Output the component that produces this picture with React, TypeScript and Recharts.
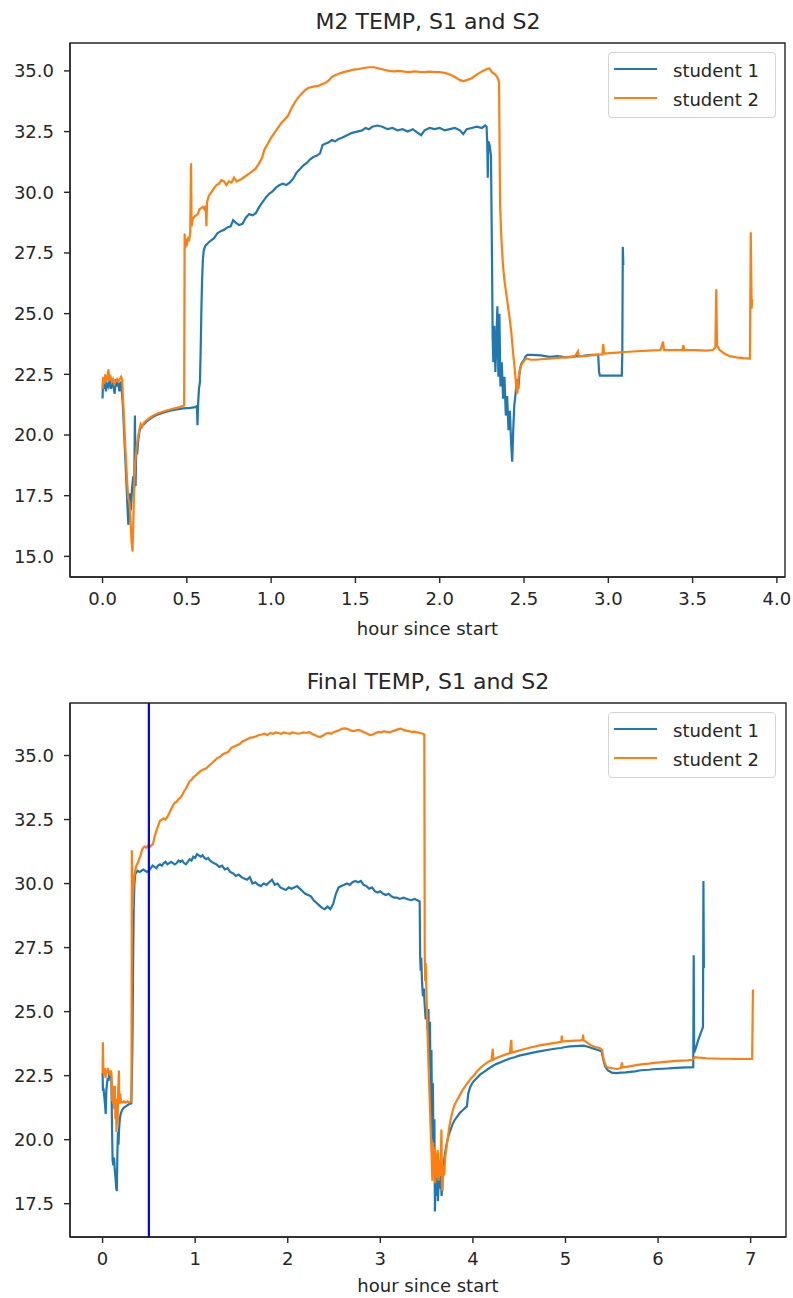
import React from "react";
import { Legend, Line, LineChart, ReferenceArea, ReferenceLine, XAxis, YAxis } from "recharts";

// [hour since start, temperature]
const m2Student1: [number, number][] = [
  [0.0, 21.5], [0.003, 22.3], [0.008, 21.9], [0.015, 22.2], [0.02, 21.8], [0.028, 22.1], [0.035, 22.0],
  [0.042, 22.3], [0.05, 21.9], [0.058, 22.2], [0.065, 22.0], [0.072, 21.7], [0.078, 22.3], [0.085, 22.0],
  [0.092, 22.2], [0.1, 21.8], [0.105, 22.1], [0.11, 22.2], [0.12, 21.3], [0.13, 19.8], [0.14, 18.3],
  [0.148, 17.0], [0.153, 16.3], [0.158, 16.8], [0.163, 17.6], [0.168, 16.9], [0.175, 17.8], [0.182, 18.3],
  [0.188, 17.8], [0.192, 20.8], [0.196, 17.9], [0.2, 19.5], [0.205, 19.2], [0.212, 19.8], [0.22, 20.2],
  [0.23, 20.35], [0.24, 20.4], [0.26, 20.55], [0.28, 20.65], [0.3, 20.75], [0.33, 20.85], [0.36, 20.92],
  [0.4, 21.0], [0.44, 21.05], [0.48, 21.1], [0.52, 21.12], [0.55, 21.15], [0.56, 21.2], [0.563, 20.4],
  [0.567, 21.3], [0.572, 21.9], [0.578, 22.2], [0.582, 23.5], [0.586, 25.0], [0.59, 26.3], [0.595, 27.2],
  [0.6, 27.6], [0.61, 27.8], [0.625, 27.9], [0.64, 28.0], [0.66, 28.1], [0.68, 28.3], [0.7, 28.4],
  [0.72, 28.45], [0.74, 28.55], [0.76, 28.6], [0.775, 28.85], [0.79, 28.75], [0.81, 28.65], [0.83, 28.7],
  [0.85, 28.95], [0.87, 29.1], [0.89, 29.05], [0.91, 29.15], [0.93, 29.4], [0.95, 29.6], [0.97, 29.8],
  [0.99, 29.95], [1.01, 30.05], [1.03, 30.2], [1.05, 30.3], [1.07, 30.35], [1.09, 30.3], [1.11, 30.4],
  [1.13, 30.55], [1.15, 30.8], [1.17, 30.95], [1.19, 31.1], [1.21, 31.2], [1.23, 31.35], [1.25, 31.45],
  [1.27, 31.5], [1.29, 31.6], [1.305, 31.95], [1.32, 32.0], [1.34, 32.05], [1.36, 32.15], [1.38, 32.1],
  [1.4, 32.2], [1.42, 32.25], [1.45, 32.35], [1.48, 32.45], [1.51, 32.5], [1.54, 32.55], [1.56, 32.65],
  [1.58, 32.6], [1.6, 32.7], [1.63, 32.75], [1.66, 32.7], [1.69, 32.6], [1.72, 32.65], [1.75, 32.55],
  [1.78, 32.6], [1.81, 32.5], [1.84, 32.6], [1.87, 32.45], [1.89, 32.35], [1.91, 32.55], [1.94, 32.65],
  [1.97, 32.6], [2.0, 32.65], [2.03, 32.55], [2.06, 32.6], [2.09, 32.65], [2.12, 32.55], [2.14, 32.4],
  [2.16, 32.6], [2.19, 32.65], [2.22, 32.7], [2.25, 32.65], [2.27, 32.75], [2.278, 32.7], [2.282, 32.0],
  [2.285, 30.6], [2.288, 32.1], [2.296, 31.95], [2.304, 31.5], [2.31, 27.3], [2.314, 24.0], [2.318, 23.0],
  [2.324, 24.5], [2.33, 22.6], [2.336, 23.8], [2.342, 25.3], [2.348, 22.4], [2.354, 25.0], [2.36, 22.0],
  [2.368, 23.0], [2.376, 21.5], [2.384, 22.4], [2.392, 20.8], [2.4, 21.6], [2.408, 20.2], [2.416, 21.0],
  [2.424, 19.6], [2.43, 18.9], [2.436, 20.2], [2.442, 21.2], [2.45, 21.7], [2.458, 22.3], [2.466, 21.9],
  [2.474, 22.6], [2.482, 22.9], [2.49, 23.0], [2.5, 23.1], [2.51, 23.25], [2.52, 23.3], [2.55, 23.3],
  [2.6, 23.28], [2.65, 23.22], [2.7, 23.25], [2.75, 23.2], [2.8, 23.24], [2.85, 23.26], [2.9, 23.3],
  [2.94, 23.3], [2.945, 22.6], [2.95, 22.45], [3.0, 22.45], [3.05, 22.45], [3.08, 22.45], [3.083, 23.4],
  [3.086, 27.75], [3.089, 27.0],
];

const m2Student2: [number, number][] = [
  [0.0, 21.9], [0.004, 22.4], [0.01, 22.1], [0.016, 22.5], [0.022, 22.2], [0.03, 22.4], [0.035, 22.7],
  [0.04, 22.3], [0.048, 22.4], [0.055, 22.2], [0.062, 22.3], [0.07, 22.1], [0.078, 22.2], [0.086, 22.3],
  [0.094, 22.2], [0.102, 22.3], [0.11, 22.4], [0.116, 22.3], [0.125, 21.0], [0.135, 19.5], [0.145, 18.2],
  [0.152, 17.4], [0.16, 17.2], [0.166, 16.5], [0.172, 15.6], [0.178, 15.2], [0.183, 16.5], [0.188, 18.0],
  [0.195, 19.0], [0.202, 19.5], [0.21, 19.9], [0.218, 20.2], [0.226, 20.45], [0.235, 20.35], [0.245, 20.5],
  [0.26, 20.6], [0.28, 20.7], [0.3, 20.8], [0.33, 20.9], [0.36, 20.97], [0.4, 21.05], [0.44, 21.12],
  [0.47, 21.18], [0.484, 21.22], [0.487, 28.3], [0.491, 27.7], [0.496, 28.0], [0.502, 27.9], [0.508, 28.1],
  [0.514, 28.05], [0.52, 28.3], [0.525, 31.2], [0.528, 28.6], [0.535, 28.9], [0.545, 29.0], [0.555, 29.05],
  [0.565, 29.1], [0.575, 29.3], [0.585, 29.35], [0.595, 29.4], [0.605, 29.3], [0.612, 29.45], [0.616, 28.6],
  [0.62, 29.6], [0.63, 29.85], [0.645, 30.0], [0.66, 30.15], [0.675, 30.3], [0.69, 30.35], [0.705, 30.5],
  [0.72, 30.45], [0.735, 30.3], [0.75, 30.45], [0.765, 30.4], [0.78, 30.6], [0.795, 30.45], [0.81, 30.5],
  [0.825, 30.55], [0.845, 30.65], [0.865, 30.75], [0.885, 30.85], [0.905, 30.95], [0.925, 31.15], [0.945, 31.4],
  [0.96, 31.75], [0.98, 32.0], [1.0, 32.25], [1.02, 32.45], [1.04, 32.65], [1.06, 32.85], [1.08, 33.0],
  [1.1, 33.15], [1.12, 33.45], [1.14, 33.7], [1.16, 33.9], [1.18, 34.05], [1.2, 34.2], [1.22, 34.3],
  [1.25, 34.35], [1.28, 34.38], [1.3, 34.45], [1.32, 34.5], [1.34, 34.6], [1.36, 34.75], [1.38, 34.82],
  [1.4, 34.88], [1.43, 34.95], [1.46, 35.0], [1.49, 35.05], [1.52, 35.08], [1.55, 35.12], [1.58, 35.15],
  [1.61, 35.15], [1.64, 35.1], [1.67, 35.05], [1.7, 35.0], [1.73, 34.98], [1.76, 35.0], [1.79, 34.97],
  [1.82, 34.95], [1.85, 34.98], [1.88, 34.96], [1.91, 34.95], [1.94, 34.97], [1.97, 34.95], [2.0, 34.95],
  [2.03, 34.92], [2.06, 34.85], [2.09, 34.75], [2.12, 34.62], [2.14, 34.58], [2.16, 34.62], [2.19, 34.7],
  [2.22, 34.85], [2.25, 34.98], [2.28, 35.08], [2.295, 35.1], [2.31, 34.95], [2.33, 34.85], [2.345, 34.7],
  [2.352, 34.5], [2.356, 31.0], [2.358, 29.5], [2.365, 28.2], [2.375, 27.0], [2.385, 26.3], [2.395, 25.8],
  [2.405, 25.3], [2.415, 24.8], [2.425, 24.2], [2.435, 23.4], [2.445, 22.7], [2.455, 21.9], [2.46, 21.7],
  [2.468, 22.4], [2.476, 22.7], [2.485, 22.9], [2.495, 23.0], [2.505, 23.1], [2.515, 23.15], [2.54, 23.1],
  [2.57, 23.1], [2.6, 23.12], [2.65, 23.15], [2.7, 23.18], [2.75, 23.2], [2.8, 23.22], [2.82, 23.45],
  [2.825, 23.24], [2.87, 23.26], [2.92, 23.3], [2.965, 23.32], [2.97, 23.75], [2.975, 23.35], [3.03, 23.38],
  [3.1, 23.42], [3.17, 23.45], [3.24, 23.48], [3.31, 23.5], [3.325, 23.85], [3.33, 23.5], [3.4, 23.5],
  [3.44, 23.5], [3.445, 23.7], [3.45, 23.5], [3.52, 23.5], [3.58, 23.48], [3.62, 23.5], [3.635, 23.6],
  [3.64, 26.0], [3.645, 23.7], [3.66, 23.5], [3.69, 23.35], [3.72, 23.25], [3.76, 23.2], [3.8, 23.17],
  [3.84, 23.15], [3.845, 28.35], [3.85, 25.2], [3.853, 25.6],
];

const finalStudent1: [number, number][] = [
  [0.0, 22.6], [0.004, 21.9], [0.01, 22.0], [0.018, 21.7], [0.026, 21.4], [0.034, 21.0], [0.04, 21.9],
  [0.048, 22.2], [0.056, 22.4], [0.064, 22.3], [0.072, 22.6], [0.08, 22.5], [0.088, 22.6], [0.095, 22.3],
  [0.102, 20.5], [0.108, 19.2], [0.116, 19.0], [0.124, 19.3], [0.132, 18.8], [0.14, 18.5], [0.148, 18.1],
  [0.154, 18.0], [0.16, 19.5], [0.166, 20.3], [0.172, 19.8], [0.178, 20.4], [0.186, 20.8], [0.195, 21.0],
  [0.21, 21.15], [0.23, 21.25], [0.25, 21.3], [0.27, 21.35], [0.29, 21.4], [0.31, 21.42], [0.318, 22.6],
  [0.324, 24.3], [0.33, 27.0], [0.336, 29.0], [0.344, 30.0], [0.352, 30.35], [0.365, 30.45], [0.38, 30.5],
  [0.4, 30.45], [0.42, 30.5], [0.44, 30.55], [0.46, 30.5], [0.48, 30.45], [0.5, 30.5], [0.52, 30.6],
  [0.54, 30.7], [0.56, 30.65], [0.58, 30.6], [0.6, 30.7], [0.62, 30.75], [0.64, 30.7], [0.66, 30.8],
  [0.68, 30.85], [0.7, 30.75], [0.72, 30.8], [0.74, 30.85], [0.76, 30.8], [0.78, 30.75], [0.8, 30.8],
  [0.82, 30.9], [0.84, 30.85], [0.86, 30.9], [0.88, 30.8], [0.9, 30.75], [0.92, 30.85], [0.94, 30.95],
  [0.96, 30.9], [0.98, 31.05], [1.0, 31.0], [1.02, 31.15], [1.04, 31.1], [1.06, 31.05], [1.08, 31.1],
  [1.1, 31.0], [1.12, 30.95], [1.14, 31.0], [1.16, 30.9], [1.18, 30.85], [1.2, 30.8], [1.23, 30.75],
  [1.26, 30.65], [1.29, 30.7], [1.32, 30.55], [1.35, 30.6], [1.38, 30.45], [1.41, 30.4], [1.44, 30.3],
  [1.47, 30.35], [1.5, 30.25], [1.53, 30.2], [1.56, 30.15], [1.59, 30.25], [1.62, 30.0], [1.65, 30.05],
  [1.68, 29.95], [1.71, 29.9], [1.74, 30.0], [1.77, 29.95], [1.8, 30.05], [1.83, 30.15], [1.86, 29.95],
  [1.89, 30.0], [1.92, 29.85], [1.95, 29.8], [1.98, 29.75], [2.01, 29.85], [2.04, 29.8], [2.07, 29.85],
  [2.1, 29.9], [2.13, 29.8], [2.16, 29.7], [2.19, 29.6], [2.22, 29.55], [2.25, 29.5], [2.28, 29.35],
  [2.31, 29.25], [2.34, 29.15], [2.37, 29.05], [2.4, 29.0], [2.43, 29.1], [2.46, 29.0], [2.49, 29.2],
  [2.52, 29.6], [2.55, 29.85], [2.58, 29.9], [2.61, 29.95], [2.64, 30.0], [2.67, 29.95], [2.7, 30.05],
  [2.73, 30.1], [2.76, 30.05], [2.79, 30.1], [2.82, 29.95], [2.85, 29.9], [2.88, 29.8], [2.91, 29.85],
  [2.94, 29.7], [2.97, 29.65], [3.0, 29.7], [3.03, 29.6], [3.06, 29.55], [3.09, 29.6], [3.12, 29.5],
  [3.15, 29.45], [3.18, 29.45], [3.21, 29.4], [3.25, 29.45], [3.29, 29.4], [3.33, 29.35], [3.37, 29.4],
  [3.4, 29.35], [3.425, 29.3], [3.43, 27.2], [3.436, 26.6], [3.442, 27.1], [3.45, 26.2], [3.46, 25.6],
  [3.47, 25.9], [3.48, 25.2], [3.49, 24.7], [3.5, 25.0], [3.51, 24.3], [3.52, 25.1], [3.528, 22.8],
  [3.536, 24.6], [3.544, 21.3], [3.552, 23.5], [3.56, 20.0], [3.568, 22.2], [3.576, 18.6], [3.584, 20.8],
  [3.59, 17.2], [3.598, 19.4], [3.606, 17.8], [3.614, 18.9], [3.622, 17.6], [3.632, 18.5], [3.642, 18.1],
  [3.652, 18.6], [3.662, 17.8], [3.672, 18.4], [3.682, 18.8], [3.692, 19.3], [3.705, 19.6], [3.72, 19.9],
  [3.74, 20.2], [3.76, 20.4], [3.78, 20.6], [3.8, 20.75], [3.83, 20.9], [3.86, 21.05], [3.89, 21.15],
  [3.92, 21.25], [3.935, 21.3], [3.95, 21.8], [3.97, 22.05], [4.0, 22.25], [4.04, 22.4], [4.08, 22.55],
  [4.12, 22.65], [4.16, 22.75], [4.2, 22.85], [4.25, 22.95], [4.3, 23.02], [4.35, 23.1], [4.4, 23.17],
  [4.45, 23.22], [4.5, 23.28], [4.55, 23.32], [4.6, 23.36], [4.65, 23.4], [4.7, 23.44], [4.75, 23.47],
  [4.8, 23.5], [4.85, 23.53], [4.9, 23.56], [4.95, 23.58], [5.0, 23.62], [5.05, 23.64], [5.1, 23.65],
  [5.15, 23.66], [5.2, 23.67], [5.25, 23.62], [5.3, 23.56], [5.35, 23.5], [5.39, 23.45], [5.41, 23.1],
  [5.43, 22.85], [5.46, 22.7], [5.5, 22.62], [5.55, 22.6], [5.6, 22.62], [5.65, 22.63], [5.7, 22.65],
  [5.75, 22.67], [5.8, 22.7], [5.85, 22.72], [5.9, 22.73], [5.95, 22.75], [6.0, 22.76], [6.05, 22.77],
  [6.1, 22.78], [6.15, 22.79], [6.2, 22.8], [6.25, 22.81], [6.3, 22.82], [6.35, 22.82], [6.38, 22.83],
  [6.385, 27.2], [6.39, 23.4], [6.41, 23.6], [6.43, 23.85], [6.45, 24.05], [6.47, 24.25], [6.485, 24.4],
  [6.49, 30.1], [6.495, 26.7],
];

const finalStudent2: [number, number][] = [
  [0.0, 22.6], [0.003, 23.8], [0.008, 22.7], [0.016, 22.5], [0.024, 22.8], [0.032, 22.4], [0.04, 22.7],
  [0.048, 22.6], [0.056, 22.8], [0.064, 22.6], [0.072, 22.7], [0.08, 22.5], [0.088, 22.7], [0.096, 22.6],
  [0.102, 21.5], [0.108, 22.1], [0.114, 21.4], [0.12, 21.9], [0.126, 21.2], [0.132, 22.1], [0.138, 20.8],
  [0.145, 21.6], [0.15, 20.3], [0.156, 21.3], [0.162, 20.6], [0.168, 21.8], [0.176, 22.7], [0.182, 21.4],
  [0.19, 21.8], [0.198, 21.5], [0.21, 21.45], [0.23, 21.5], [0.25, 21.45], [0.27, 21.5], [0.29, 21.45],
  [0.312, 21.5], [0.316, 31.3], [0.322, 29.0], [0.328, 29.6], [0.334, 30.0], [0.342, 30.3], [0.352, 30.5],
  [0.365, 30.7], [0.38, 30.8], [0.395, 30.95], [0.41, 31.1], [0.425, 31.3], [0.44, 31.4], [0.455, 31.45],
  [0.47, 31.4], [0.485, 31.45], [0.5, 31.5], [0.515, 31.45], [0.53, 31.5], [0.545, 31.55], [0.56, 31.8],
  [0.575, 32.0], [0.59, 32.15], [0.605, 32.3], [0.62, 32.45], [0.64, 32.5], [0.66, 32.55], [0.68, 32.5],
  [0.7, 32.6], [0.72, 32.75], [0.74, 32.9], [0.76, 33.05], [0.78, 33.15], [0.8, 33.2], [0.82, 33.3],
  [0.84, 33.35], [0.86, 33.45], [0.88, 33.6], [0.9, 33.7], [0.92, 33.85], [0.94, 34.0], [0.96, 34.05],
  [0.98, 34.15], [1.0, 34.2], [1.03, 34.3], [1.06, 34.4], [1.09, 34.45], [1.12, 34.5], [1.15, 34.6],
  [1.18, 34.7], [1.21, 34.8], [1.24, 34.9], [1.27, 34.95], [1.3, 35.05], [1.33, 35.1], [1.36, 35.15],
  [1.39, 35.3], [1.42, 35.35], [1.45, 35.4], [1.48, 35.45], [1.51, 35.55], [1.54, 35.6], [1.57, 35.65],
  [1.6, 35.7], [1.63, 35.72], [1.66, 35.75], [1.69, 35.8], [1.72, 35.82], [1.75, 35.85], [1.78, 35.8],
  [1.81, 35.88], [1.84, 35.85], [1.87, 35.9], [1.9, 35.88], [1.93, 35.85], [1.96, 35.9], [1.99, 35.87],
  [2.02, 35.85], [2.05, 35.9], [2.08, 35.88], [2.11, 35.85], [2.14, 35.87], [2.17, 35.9], [2.2, 35.88],
  [2.23, 35.92], [2.26, 35.85], [2.29, 35.8], [2.32, 35.75], [2.35, 35.72], [2.38, 35.78], [2.41, 35.85],
  [2.44, 35.88], [2.47, 35.85], [2.5, 35.92], [2.53, 35.95], [2.56, 36.0], [2.59, 36.05], [2.62, 36.06],
  [2.65, 36.03], [2.68, 35.98], [2.71, 35.95], [2.74, 35.98], [2.77, 36.0], [2.8, 35.95], [2.83, 35.9],
  [2.86, 35.85], [2.89, 35.8], [2.92, 35.82], [2.95, 35.88], [2.98, 35.92], [3.01, 35.9], [3.04, 35.95],
  [3.07, 35.92], [3.1, 35.9], [3.13, 35.95], [3.16, 35.98], [3.19, 36.02], [3.22, 36.05], [3.25, 36.0],
  [3.28, 35.97], [3.31, 35.95], [3.34, 35.92], [3.37, 35.93], [3.4, 35.9], [3.43, 35.88], [3.46, 35.85],
  [3.475, 35.82], [3.48, 27.3], [3.484, 26.2], [3.49, 26.9], [3.5, 25.5], [3.51, 24.2], [3.52, 23.0],
  [3.53, 21.9], [3.54, 20.8], [3.55, 19.8], [3.556, 19.2], [3.562, 18.4], [3.57, 19.9], [3.578, 18.6],
  [3.586, 19.7], [3.594, 18.3], [3.602, 19.5], [3.61, 18.5], [3.62, 19.6], [3.63, 18.4], [3.64, 19.2],
  [3.65, 18.6], [3.66, 20.4], [3.666, 18.2], [3.672, 18.0], [3.68, 19.0], [3.69, 18.6], [3.7, 19.3],
  [3.715, 19.7], [3.73, 20.1], [3.745, 20.5], [3.76, 20.8], [3.78, 21.1], [3.8, 21.35], [3.83, 21.55],
  [3.86, 21.75], [3.89, 21.95], [3.92, 22.1], [3.95, 22.25], [3.98, 22.4], [4.01, 22.5], [4.04, 22.65],
  [4.08, 22.8], [4.12, 22.92], [4.16, 23.03], [4.2, 23.1], [4.215, 23.55], [4.22, 23.12], [4.26, 23.2],
  [4.3, 23.26], [4.35, 23.32], [4.4, 23.38], [4.415, 23.9], [4.42, 23.4], [4.47, 23.45], [4.52, 23.5],
  [4.57, 23.55], [4.62, 23.6], [4.67, 23.64], [4.72, 23.68], [4.77, 23.71], [4.82, 23.74], [4.87, 23.77],
  [4.92, 23.8], [4.955, 23.82], [4.96, 24.06], [4.965, 23.83], [5.01, 23.85], [5.06, 23.86], [5.11, 23.87],
  [5.16, 23.88], [5.185, 23.9], [5.19, 24.1], [5.195, 23.88], [5.23, 23.8], [5.27, 23.7], [5.32, 23.62],
  [5.37, 23.58], [5.395, 23.5], [5.415, 23.1], [5.44, 22.85], [5.48, 22.8], [5.52, 22.78], [5.56, 22.76],
  [5.6, 22.8], [5.61, 23.02], [5.615, 22.82], [5.66, 22.84], [5.72, 22.88], [5.78, 22.92], [5.84, 22.95],
  [5.9, 22.97], [5.96, 23.0], [6.02, 23.02], [6.08, 23.04], [6.14, 23.06], [6.2, 23.08], [6.26, 23.09],
  [6.32, 23.1], [6.37, 23.12], [6.4, 23.22], [6.45, 23.2], [6.52, 23.18], [6.6, 23.17], [6.68, 23.16],
  [6.76, 23.16], [6.84, 23.15], [6.92, 23.15], [6.98, 23.15], [7.016, 23.15], [7.025, 25.85], [7.03, 25.8],
];

const m2HourTicks = [0, 0.5, 1, 1.5, 2, 2.5, 3, 3.5, 4];
const m2TempTicks = [15, 17.5, 20, 22.5, 25, 27.5, 30, 32.5, 35];
const finalHourTicks = [0, 1, 2, 3, 4, 5, 6, 7];
const finalTempTicks = [17.5, 20, 22.5, 25, 27.5, 30, 32.5, 35];
const markerHour = 0.5;

const BLUE = "#1f77b4";
const ORANGE = "#ff7f0e";
const INK = "#262626";
const FONT = "DejaVu Sans, sans-serif";

const toPoints = (rows: [number, number][]) => rows.map(([t, v]) => ({ t, v }));

function LegendBox(props: any) {
  const items = props.payload || [];
  return (
    <div
      style={{
        width: 168,
        height: 66,
        boxSizing: "border-box",
        border: "1px solid #d3d3d3",
        borderRadius: 4,
        background: "rgba(255,255,255,0.85)",
        position: "relative",
        fontFamily: FONT,
      }}
    >
      {items.map((item: any, i: number) => (
        <React.Fragment key={item.value}>
          <div
            style={{
              position: "absolute",
              left: 5,
              top: 15 + i * 29,
              width: 43,
              height: 2.3,
              background: item.color,
            }}
          />
          <div
            style={{
              position: "absolute",
              left: 64,
              top: 9 + i * 29,
              fontSize: 18,
              lineHeight: "18px",
              color: INK,
              whiteSpace: "nowrap",
            }}
          >
            {item.value}
          </div>
        </React.Fragment>
      ))}
    </div>
  );
}

type PanelProps = {
  top: number;
  height: number;
  title: string;
  s1: [number, number][];
  s2: [number, number][];
  xDomain: [number, number];
  yDomain: [number, number];
  xTicks: number[];
  yTicks: number[];
  xFmt: (v: number) => string;
  axisHeight: number;
  labelOffset: number;
  rightMargin: number;
  vline?: number;
};

function Panel(p: PanelProps) {
  const tickStyle = { fontSize: 18, fill: INK, fontFamily: FONT };
  return (
    <div style={{ position: "absolute", left: 0, top: p.top, width: 793, height: p.height }}>
      <div
        style={{
          position: "absolute",
          left: 70,
          width: 786 - 70,
          top: 11,
          textAlign: "center",
          fontSize: 22,
          lineHeight: "22px",
          color: INK,
          fontFamily: FONT,
        }}
      >
        {p.title}
      </div>
      <LineChart
        width={793}
        height={p.height}
        margin={{ top: 43, right: p.rightMargin, left: 0, bottom: 0 }}
        style={{ fontFamily: FONT }}
      >
        <XAxis
          dataKey="t"
          type="number"
          domain={p.xDomain}
          allowDataOverflow
          ticks={p.xTicks}
          tickFormatter={p.xFmt}
          height={p.axisHeight}
          tickSize={6}
          tickMargin={9}
          stroke={INK}
          strokeWidth={1.4}
          tick={tickStyle}
          label={{ value: "hour since start", position: "insideBottom", offset: p.labelOffset, fontSize: 18, fill: INK }}
        />
        <YAxis
          type="number"
          domain={p.yDomain}
          allowDataOverflow
          ticks={p.yTicks}
          tickFormatter={(v: number) => v.toFixed(1)}
          width={70}
          tickSize={6}
          tickMargin={10}
          stroke={INK}
          strokeWidth={1.4}
          tick={tickStyle}
        />
        {/* axes frame (matplotlib draws all four spines) */}
        <ReferenceArea
          x1={p.xDomain[0]}
          x2={p.xDomain[1]}
          y1={p.yDomain[0]}
          y2={p.yDomain[1]}
          fill="none"
          fillOpacity={0}
          stroke={INK}
          strokeWidth={1.4}
          strokeOpacity={1}
          ifOverflow="visible"
        />
        <Line data={toPoints(p.s1)} dataKey="v" name="student 1" stroke={BLUE} strokeWidth={2.2} dot={false} type="linear" isAnimationActive={false} />
        <Line data={toPoints(p.s2)} dataKey="v" name="student 2" stroke={ORANGE} strokeWidth={2.2} dot={false} type="linear" isAnimationActive={false} />
        {p.vline !== undefined && <ReferenceLine x={p.vline} stroke="#0000ff" strokeWidth={2.2} />}
        <Legend
          layout="horizontal"
          verticalAlign="middle"
          align="center"
          wrapperStyle={{ top: 52, left: 608, width: 168, height: 66 }}
          content={LegendBox}
        />
      </LineChart>
    </div>
  );
}

export default function App() {
  return (
    <div style={{ position: "absolute", left: 0, top: 0, width: 793, height: 1298, background: "#fff" }}>
      <Panel
        top={0}
        height={650}
        title="M2 TEMP, S1 and S2"
        s1={m2Student1}
        s2={m2Student2}
        xDomain={[-0.193, 4.048]}
        yDomain={[14.15, 36.15]}
        xTicks={m2HourTicks}
        yTicks={m2TempTicks}
        xFmt={(v) => v.toFixed(1)}
        axisHeight={73}
        labelOffset={15}
        rightMargin={8}
      />
      <Panel
        top={660}
        height={638}
        title="Final TEMP, S1 and S2"
        s1={finalStudent1}
        s2={finalStudent2}
        xDomain={[-0.352, 7.382]}
        yDomain={[16.2, 37.05]}
        xTicks={finalHourTicks}
        yTicks={finalTempTicks}
        xFmt={(v) => String(v)}
        axisHeight={61}
        labelOffset={6}
        rightMargin={7}
        vline={markerHour}
      />
    </div>
  );
}
